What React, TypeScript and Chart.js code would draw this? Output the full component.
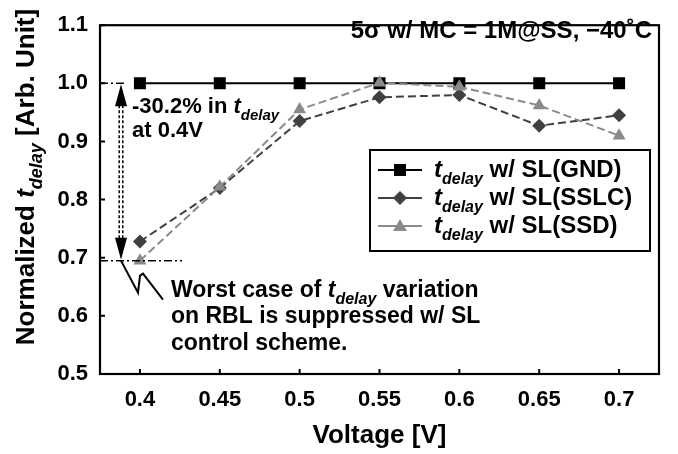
import { useEffect, useRef } from 'react';
import { Chart, registerables } from 'chart.js';

Chart.register(...registerables);

const voltages = ['0.4', '0.45', '0.5', '0.55', '0.6', '0.65', '0.7'];
const gndValues = [1.0, 1.0, 1.0, 1.0, 1.0, 1.0, 1.0];
const sslcValues = [0.728, 0.82, 0.935, 0.976, 0.98, 0.927, 0.945];
const ssdValues = [0.695, 0.822, 0.955, 1.001, 0.994, 0.962, 0.91];
const yTicks = [0.5, 0.6, 0.7, 0.8, 0.9, 1.0, 1.1];
const seriesNames = ['SL(GND)', 'SL(SSLC)', 'SL(SSD)'];
const seriesColors = ['#000000', '#404040', '#8a8a8a'];
const referenceValue = 1.0;
const worstValue = 0.695;

const FF = '"Liberation Sans", Arial, Helvetica, sans-serif';

type Seg = { text: string; italic?: boolean; sub?: boolean };

function drawRich(ctx: CanvasRenderingContext2D, segs: Seg[], x: number, y: number, size: number, align: 'left' | 'center' | 'right') {
  const subSize = Math.round(size * 0.68);
  const fontFor = (s: Seg) => `${s.italic ? 'italic ' : ''}bold ${s.sub ? subSize : size}px ${FF}`;
  const widths = segs.map((s) => {
    ctx.font = fontFor(s);
    return ctx.measureText(s.text).width;
  });
  const total = widths.reduce((a, b) => a + b, 0);
  let cx = align === 'left' ? x : align === 'center' ? x - total / 2 : x - total;
  ctx.textAlign = 'left';
  ctx.textBaseline = 'alphabetic';
  segs.forEach((s, i) => {
    ctx.font = fontFor(s);
    ctx.fillText(s.text, cx, y + (s.sub ? size * 0.3 : 0));
    cx += widths[i];
  });
}

function drawMarker(ctx: CanvasRenderingContext2D, kind: number, x: number, y: number, color: string) {
  ctx.fillStyle = color;
  ctx.beginPath();
  if (kind === 0) {
    ctx.rect(x - 6, y - 6, 12, 12);
  } else if (kind === 1) {
    ctx.moveTo(x, y - 7);
    ctx.lineTo(x + 7, y);
    ctx.lineTo(x, y + 7);
    ctx.lineTo(x - 7, y);
    ctx.closePath();
  } else {
    ctx.moveTo(x, y - 7);
    ctx.lineTo(x + 7, y + 5);
    ctx.lineTo(x - 7, y + 5);
    ctx.closePath();
  }
  ctx.fill();
}

const overlayPlugin = {
  id: 'overlay',
  afterDraw(chart: any) {
    const ctx: CanvasRenderingContext2D = chart.ctx;
    const { left, right, top, bottom } = chart.chartArea;
    const xs = chart.scales.x;
    const ys = chart.scales.y;
    ctx.save();
    ctx.fillStyle = '#000';
    ctx.strokeStyle = '#000';

    // frame
    ctx.lineWidth = 2.2;
    ctx.strokeRect(left, top, right - left, bottom - top);

    // inward ticks
    ctx.lineWidth = 2;
    ctx.beginPath();
    ys.ticks.forEach((t: any) => {
      const py = ys.getPixelForValue(t.value);
      ctx.moveTo(left, py);
      ctx.lineTo(left + 5, py);
    });
    xs.ticks.forEach((_t: any, i: number) => {
      const px = xs.getPixelForTick(i);
      ctx.moveTo(px, bottom);
      ctx.lineTo(px, bottom - 5);
    });
    ctx.stroke();

    // axis titles
    ctx.fillStyle = '#000';
    drawRich(ctx, [{ text: 'Voltage [V]' }], (left + right) / 2, 443, 26, 'center');
    ctx.save();
    ctx.translate(34, 177);
    ctx.rotate(-Math.PI / 2);
    drawRich(ctx, [
      { text: 'Normalized ' },
      { text: 't', italic: true },
      { text: 'delay', italic: true, sub: true },
      { text: ' [Arb. Unit]' },
    ], 0, 0, 26, 'center');
    ctx.restore();

    // top-right condition text
    drawRich(ctx, [{ text: '5σ w/ MC = 1M@SS, −40˚C' }], 652, 38, 24, 'right');

    // dash-dot guide lines
    const yRef = ys.getPixelForValue(referenceValue);
    const yWorst = ys.getPixelForValue(worstValue);
    ctx.lineWidth = 1.5;
    ctx.setLineDash([8, 3, 2, 3]);
    ctx.beginPath();
    ctx.moveTo(left, yRef);
    ctx.lineTo(left + 27, yRef);
    ctx.moveTo(left, yWorst);
    ctx.lineTo(left + 82, yWorst);
    ctx.stroke();

    // double dotted arrow
    const ax = 121;
    ctx.setLineDash([3, 2]);
    ctx.lineWidth = 1.5;
    ctx.beginPath();
    ctx.moveTo(ax - 1.8, yRef + 22);
    ctx.lineTo(ax - 1.8, yWorst - 22);
    ctx.moveTo(ax + 1.8, yRef + 22);
    ctx.lineTo(ax + 1.8, yWorst - 22);
    ctx.stroke();
    ctx.setLineDash([]);
    ctx.beginPath();
    ctx.moveTo(ax, yRef + 1);
    ctx.lineTo(ax + 6, yRef + 23);
    ctx.lineTo(ax - 6, yRef + 23);
    ctx.closePath();
    ctx.moveTo(ax, yWorst - 1);
    ctx.lineTo(ax + 6, yWorst - 23);
    ctx.lineTo(ax - 6, yWorst - 23);
    ctx.closePath();
    ctx.fill();

    // lightning callout
    ctx.lineWidth = 2;
    ctx.beginPath();
    ctx.moveTo(ax, yWorst);
    ctx.lineTo(ax + 17, yWorst + 32);
    ctx.lineTo(ax + 19, yWorst + 15);
    ctx.lineTo(ax + 22, yWorst + 13);
    ctx.lineTo(ax + 42, yWorst + 39);
    ctx.stroke();

    // annotations
    drawRich(ctx, [{ text: '-30.2% in ' }, { text: 't', italic: true }, { text: 'delay', italic: true, sub: true }], 132, 113, 22, 'left');
    drawRich(ctx, [{ text: 'at 0.4V' }], 132, 137, 22, 'left');
    drawRich(ctx, [{ text: 'Worst case of ' }, { text: 't', italic: true }, { text: 'delay', italic: true, sub: true }, { text: ' variation' }], 171, 297, 23, 'left');
    drawRich(ctx, [{ text: 'on RBL is suppressed w/ SL' }], 171, 323, 23, 'left');
    drawRich(ctx, [{ text: 'control scheme.' }], 171, 350, 23, 'left');

    // legend
    const lx0 = 370, ly0 = 150, lx1 = 650, ly1 = 251;
    ctx.fillStyle = '#fff';
    ctx.fillRect(lx0, ly0, lx1 - lx0, ly1 - ly0);
    ctx.lineWidth = 2;
    ctx.strokeStyle = '#000';
    ctx.strokeRect(lx0, ly0, lx1 - lx0, ly1 - ly0);
    seriesNames.forEach((name, i) => {
      const cy = 170 + i * 28;
      ctx.strokeStyle = seriesColors[i];
      ctx.lineWidth = 2;
      ctx.beginPath();
      ctx.moveTo(378, cy);
      ctx.lineTo(422, cy);
      ctx.stroke();
      drawMarker(ctx, i, 400, cy, seriesColors[i]);
      ctx.fillStyle = '#000';
      drawRich(ctx, [{ text: 't', italic: true }, { text: 'delay', italic: true, sub: true }, { text: ' w/ ' + name }], 434, cy + 7, 24, 'left');
    });

    ctx.restore();
  },
};

export default function App() {
  const ref = useRef<HTMLCanvasElement | null>(null);
  useEffect(() => {
    document.body.style.margin = '0';
    document.body.style.overflow = 'hidden';
    const canvas = ref.current!;
    const chart = new Chart(canvas, {
      type: 'line',
      data: {
        labels: voltages,
        datasets: [
          {
            label: seriesNames[2],
            data: ssdValues,
            borderColor: seriesColors[2],
            backgroundColor: seriesColors[2],
            borderWidth: 2,
            borderDash: [8, 4],
            pointStyle: 'triangle',
            pointRadius: 7.5,
            pointBorderWidth: 0,
            order: 0,
          },
          {
            label: seriesNames[1],
            data: sslcValues,
            borderColor: seriesColors[1],
            backgroundColor: seriesColors[1],
            borderWidth: 2,
            borderDash: [8, 4],
            pointStyle: 'rectRot',
            pointRadius: 7,
            pointBorderWidth: 0,
            order: 1,
          },
          {
            label: seriesNames[0],
            data: gndValues,
            borderColor: seriesColors[0],
            backgroundColor: seriesColors[0],
            borderWidth: 2,
            pointStyle: 'rect',
            pointRadius: 8.5,
            pointBorderWidth: 0,
            order: 2,
          },
        ],
      },
      options: {
        responsive: false,
        animation: false,
        devicePixelRatio: 1,
        layout: { padding: { top: 13, right: 19, left: 0, bottom: 0 } },
        plugins: { legend: { display: false }, tooltip: { enabled: false } },
        scales: {
          x: {
            type: 'category',
            offset: true,
            grid: { display: false, drawTicks: false },
            border: { display: false },
            ticks: { color: '#000', font: { family: FF, size: 22, weight: 'bold' }, padding: 13, maxRotation: 0 },
            afterFit: (s: any) => { s.height = 80; },
          },
          y: {
            type: 'linear',
            min: 0.5,
            max: 1.1,
            grid: { display: false, drawTicks: false },
            border: { display: false },
            ticks: {
              color: '#000',
              font: { family: FF, size: 22, weight: 'bold' },
              padding: 12,
              callback: (v: any) => Number(v).toFixed(1),
            },
            afterBuildTicks: (s: any) => { s.ticks = yTicks.map((v) => ({ value: v })); },
            afterFit: (s: any) => { s.width = 100; },
          },
        },
      },
      plugins: [overlayPlugin],
    });
    return () => chart.destroy();
  }, []);
  return <canvas ref={ref} width={678} height={454} style={{ display: 'block' }} />;
}
